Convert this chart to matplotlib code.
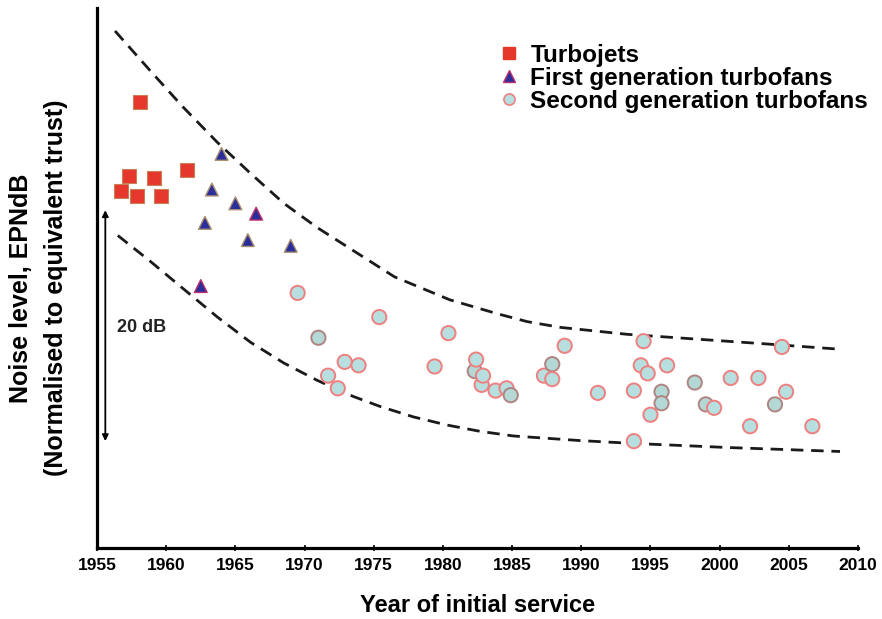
import matplotlib.pyplot as plt
from matplotlib.lines import Line2D

# --- data (year of service, noise level in dB above the axis floor)
turbojet_year = [1956.7, 1957.3, 1957.9, 1958.1, 1959.1, 1959.6, 1961.5]
turbojet_noise = [31.1, 32.4, 30.6, 38.8, 32.2, 30.6, 32.9]

first_gen_year = [1962.5, 1962.8, 1963.3, 1964.0, 1965.0, 1965.9, 1966.5, 1969.0]
first_gen_noise = [22.8, 28.3, 31.2, 34.3, 30.0, 26.8, 29.1, 26.3]

second_gen_year = [1969.5, 1971.0, 1971.7, 1972.4, 1972.9, 1973.9, 1975.4, 1979.4,
                   1980.4, 1982.3, 1982.4, 1982.8, 1982.9, 1983.8, 1984.6, 1984.9,
                   1987.3, 1987.9, 1987.9, 1988.8, 1991.2, 1993.8, 1993.8, 1994.3,
                   1994.5, 1994.8, 1995.0, 1995.8, 1995.8, 1996.2, 1998.2, 1999.0,
                   1999.6, 2000.8, 2002.2, 2002.8, 2004.0, 2004.5, 2004.8, 2006.7]
second_gen_noise = [22.2, 18.3, 15.0, 13.9, 16.2, 15.9, 20.1, 15.8,
                    18.7, 15.4, 16.4, 14.2, 15.0, 13.7, 13.9, 13.3,
                    15.0, 16.0, 14.7, 17.6, 13.5, 13.7, 9.3, 15.9,
                    18.0, 15.2, 11.6, 13.6, 12.6, 15.9, 14.4, 12.5,
                    12.2, 14.8, 10.6, 14.8, 12.5, 17.5, 13.6, 10.6]

upper_year = [1956.3, 1958.8, 1961.2, 1963.7, 1966.1, 1968.5, 1970.9, 1973.5, 1976.5,
              1978.9, 1980.5, 1983.9, 1986.1, 1988.5, 1993.3, 1998.1, 2002.9, 2008.7]
upper_noise = [45.0, 41.6, 38.4, 35.3, 32.6, 30.0, 27.9, 25.9, 23.6,
               22.4, 21.6, 20.4, 19.7, 19.2, 18.6, 18.2, 17.8, 17.3]

lower_year = [1956.5, 1958.8, 1961.2, 1963.7, 1966.1, 1968.5, 1970.9, 1973.5, 1975.5,
              1977.9, 1980.3, 1982.7, 1985.1, 1989.9, 1993.8, 2000.5, 2008.7]
lower_noise = [27.2, 25.0, 22.6, 20.1, 17.9, 16.1, 14.6, 13.2, 12.3,
               11.4, 10.7, 10.15, 9.75, 9.35, 9.1, 8.75, 8.4]

year_ticks = list(range(1955, 2011, 5))

# edge styling quirks of the original markers
first_gen_red_edge = [0, 6]
second_gen_dark_edge = [1, 9, 15, 17, 27, 28, 30, 31, 36]

red = '#e5372b'
navy = '#2b2e9a'
teal = '#b8dfe0'
pink = '#ee8080'

bold = {'family': ['Liberation Sans', 'DejaVu Sans'], 'weight': 'bold'}
narrow = {'family': ['Liberation Sans Narrow', 'Liberation Sans', 'DejaVu Sans'], 'weight': 'bold'}

fig = plt.figure(figsize=(8.82, 6.19), dpi=100)
ax = fig.add_axes([0.110, 0.1147, 0.8628, 0.8724])

dash = (0, (4.5, 2.8))
ax.plot(upper_year, upper_noise, ls=dash, color='#1a1a1a', lw=2.0, zorder=1)
ax.plot(lower_year, lower_noise, ls=dash, color='#1a1a1a', lw=2.0, zorder=1)

ax.scatter(turbojet_year, turbojet_noise, marker='s', s=92, c=red,
           edgecolors='#c8805a', linewidths=0.8, zorder=3)

tri_edges = [('#c0306a' if i in first_gen_red_edge else '#a89070')
             for i in range(len(first_gen_year))]
ax.scatter(first_gen_year, first_gen_noise, marker='^', s=85, c=navy,
           edgecolors=tri_edges, linewidths=1.0, zorder=3)

circ_edges = [('#b08482' if i in second_gen_dark_edge else pink)
              for i in range(len(second_gen_year))]
circ_faces = [('#b3d8d5' if i in second_gen_dark_edge else teal)
              for i in range(len(second_gen_year))]
ax.scatter(second_gen_year, second_gen_noise, marker='o', s=105, c=circ_faces,
           edgecolors=circ_edges, linewidths=1.4, zorder=3)

# 20 dB scale arrow
ax.annotate('', xy=(1955.6, 29.4), xytext=(1955.6, 9.3),
            arrowprops=dict(arrowstyle='<|-|>', lw=1.3, color='black',
                            mutation_scale=9, shrinkA=0, shrinkB=0))
ax.text(1956.45, 19.2, '20 dB', fontsize=13, color='#222222', va='center', ha='left', **bold)

ax.set_xlim(1955, 2010)
ax.set_ylim(0, 47)
ax.set_xticks(year_ticks)
ax.set_xticklabels([str(y) for y in year_ticks], fontsize=12.5, **narrow)
ax.set_yticks([])
ax.tick_params(axis='x', direction='inout', length=5, width=1.2, pad=5)
for side in ['top', 'right']:
    ax.spines[side].set_visible(False)
for side in ['left', 'bottom']:
    ax.spines[side].set_linewidth(2.3)

ax.set_xlabel('Year of initial service', fontsize=17, labelpad=15, **bold)
fig.text(0.024, 0.535, 'Noise level, EPNdB', rotation=90, fontsize=18,
         ha='center', va='center', **bold)
fig.text(0.063, 0.535, '(Normalised to equivalent trust)', rotation=90, fontsize=18,
         ha='center', va='center', **bold)

handles = [
    Line2D([], [], ls='none', marker='s', ms=8, mfc=red, mec=red),
    Line2D([], [], ls='none', marker='^', ms=8, mfc=navy, mec='#c0306a', mew=1.0),
    Line2D([], [], ls='none', marker='o', ms=8, mfc=teal, mec=pink, mew=1.2),
]
labels = ['Turbojets', 'First generation turbofans', 'Second generation turbofans']
ax.legend(handles, labels, loc='upper left', bbox_to_anchor=(497 / 882, 1 - 44 / 619),
          bbox_transform=fig.transFigure, frameon=False, borderpad=0, borderaxespad=0,
          handlelength=0.95, handletextpad=0.42, labelspacing=0.0,
          prop={'family': ['Liberation Sans', 'DejaVu Sans'], 'weight': 'bold', 'size': 17.5})

fig.savefig('out.png', dpi=100)
